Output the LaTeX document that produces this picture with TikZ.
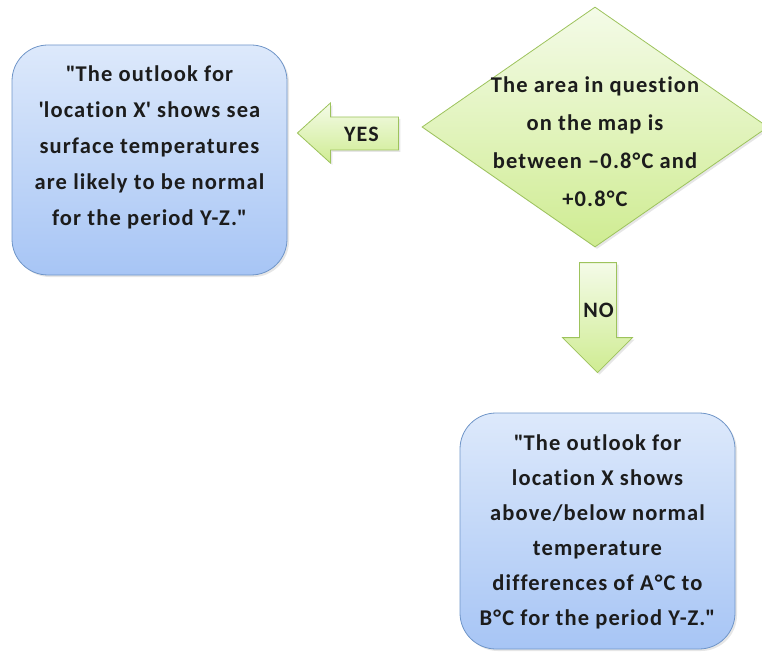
\documentclass[tikz,border=0pt]{standalone}
\usepackage{fontspec}
\setmainfont{Carlito}[Ligatures={NoCommon}, LetterSpace=5]
\usepackage{tikz}
\usetikzlibrary{positioning,calc,shapes.geometric,shadows}
\definecolor{bxTop}{HTML}{DDE9FB}
\definecolor{bxBot}{HTML}{A7C5F5}
\definecolor{bxLine}{HTML}{6F95C8}
\definecolor{gnTop}{HTML}{F4FBE8}
\definecolor{gnBot}{HTML}{CFEC92}
\definecolor{gnLine}{HTML}{9DC35C}
\definecolor{txDark}{HTML}{1C1C1C}
\newcommand{\dq}{\textquotedbl}
\newcommand{\sq}{\textquotesingle}
\tikzset{
  outbox/.style={draw=bxLine, thick, rounded corners=36pt, top color=bxTop, bottom color=bxBot,
    minimum width=275pt, minimum height=230pt, inner sep=0pt,
    drop shadow={opacity=0.2, shadow xshift=2pt, shadow yshift=-2pt}},
  decide/.style={diamond, draw=gnLine, thick, top color=gnTop, bottom color=gnBot,
    shape aspect=1.44, minimum width=346pt, minimum height=240pt, inner sep=0pt,
    drop shadow={opacity=0.2, shadow xshift=2pt, shadow yshift=-2pt}},
  blockarrow/.style={draw=gnLine, thick, top color=gnTop, bottom color=gnBot,
    drop shadow={opacity=0.2, shadow xshift=2pt, shadow yshift=-2pt}},
  boxtext/.style={align=center, text=txDark, font=\bfseries\fontsize{22.5}{35}\selectfont},
  arrowtext/.style={text=txDark, font=\bfseries\fontsize{22}{24}\selectfont, inner sep=0pt}
}
\begin{document}
\begin{tikzpicture}[x=1pt,y=-1pt]
\useasboundingbox (0,0) rectangle (762,652);
% outcome boxes and decision
\node[outbox] (normal) at (149.5,160) {};
\node[boxtext, font=\bfseries\fontsize{22.5}{36}\selectfont] (normaltxt) at ($(normal.center)+(0,-13)$)
  {\dq The outlook for\\\sq location X\sq\ shows sea\\surface temperatures\\are likely to be normal\\for the period Y-Z.\dq};
\node[decide] (area) at (595,127) {};
\node[boxtext, font=\bfseries\fontsize{22.5}{38}\selectfont] (areatxt) at ($(area.center)+(0,15)$)
  {The area in question\\on the map is\\between –0.8°C and\\+0.8°C};
\node[outbox, minimum height=236pt] (diff) at (597.5,531) {};
\node[boxtext] (difftxt) at ($(diff.center)+(0,1)$)
  {\dq The outlook for\\location X shows\\above/below normal\\temperature\\differences of A°C to\\B°C for the period Y-Z.\dq};
% block arrows
\coordinate (yestip) at ($(normal.east)+(10,-27)$);
\coordinate (notip) at ($(diff.north)+(0,-40)$);
\draw[blockarrow] ($(yestip)+(101,-16)$) -- ($(yestip)+(33,-16)$) -- ($(yestip)+(33,-30)$)
  -- (yestip) -- ($(yestip)+(33,30)$) -- ($(yestip)+(33,17)$) -- ($(yestip)+(101,17)$) -- cycle;
\node[arrowtext] (yes) at ($(yestip)+(64,1)$) {YES};
\draw[blockarrow] ($(notip)+(-18,-110)$) -- ($(notip)+(19,-110)$) -- ($(notip)+(19,-35)$)
  -- ($(notip)+(35,-35)$) -- (notip) -- ($(notip)+(-35,-35)$) -- ($(notip)+(-18,-35)$) -- cycle;
\node[arrowtext] (no) at ($(notip)+(1,-62)$) {NO};
\end{tikzpicture}
\end{document}
